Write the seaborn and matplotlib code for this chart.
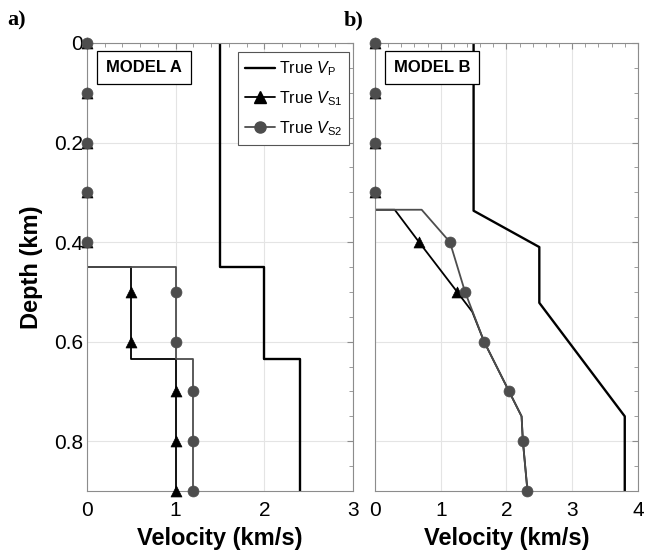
import numpy as np
import matplotlib.pyplot as plt
import seaborn as sns
from matplotlib.lines import Line2D
from matplotlib.ticker import MultipleLocator

# Model A profiles: velocity (km/s) vs depth (km)
vp_a_depth = [0, 0.45, 0.45, 0.635, 0.635, 0.9]
vp_a_vel = [1.5, 1.5, 2.0, 2.0, 2.4, 2.4]
vs_a_depth = [0, 0.45, 0.45, 0.635, 0.635, 0.9]
vs1_a_vel = [0, 0, 0.5, 0.5, 1.0, 1.0]
vs2_a_vel = [0, 0, 1.0, 1.0, 1.2, 1.2]

# Model B profiles
vp_b_depth = [0, 0.337, 0.41, 0.522, 0.75, 0.9]
vp_b_vel = [1.5, 1.5, 2.5, 2.5, 3.8, 3.8]
vs1_b_depth = [0, 0.335, 0.335, 0.4, 0.5, 0.54, 0.6, 0.7, 0.75, 0.8, 0.9]
vs1_b_vel = [0, 0, 0.30, 0.67, 1.25, 1.48, 1.66, 2.04, 2.23, 2.25, 2.32]
vs2_b_depth = [0, 0.335, 0.335, 0.4, 0.5, 0.6, 0.7, 0.75, 0.8, 0.9]
vs2_b_vel = [0, 0, 0.71, 1.14, 1.37, 1.66, 2.04, 2.23, 2.25, 2.32]

# sampled points (markers)
mark_depth = [0, 0.1, 0.2, 0.3, 0.4, 0.5, 0.6, 0.7, 0.8, 0.9]
vs1_a_mark = [0, 0, 0, 0, 0, 0.5, 0.5, 1.0, 1.0, 1.0]
vs2_a_mark = [0, 0, 0, 0, 0, 1.0, 1.0, 1.2, 1.2, 1.2]
vs1_b_mark = [0, 0, 0, 0, 0.67, 1.25]
vs2_b_mark = [0, 0, 0, 0, 1.14, 1.37, 1.66, 2.04, 2.25, 2.32]

depth_ticks = [0, 0.2, 0.4, 0.6, 0.8]
depth_labels = ['0', '0.2', '0.4', '0.6', '0.8']

sns.set_style('whitegrid', {'text.color': 'black', 'axes.labelcolor': 'black',
                            'xtick.color': 'black', 'ytick.color': 'black'})
plt.rcParams['font.family'] = ['Liberation Sans', 'DejaVu Sans']
plt.rcParams['mathtext.fontset'] = 'custom'
plt.rcParams['mathtext.rm'] = 'Liberation Sans'
plt.rcParams['mathtext.it'] = 'Liberation Sans:italic'

fig = plt.figure(figsize=(6.45, 5.51), dpi=100)
ax_a = fig.add_axes([0.1349, 0.1089, 0.4124, 0.8131])
ax_b = fig.add_axes([0.5814, 0.1089, 0.4076, 0.8131])

black = '#000000'
gray = '#4d4d4d'


def draw_model(ax, vp_v, vp_d, vs1_v, vs1_d, vs2_v, vs2_d, m1, m2):
    sns.lineplot(x=vp_v, y=vp_d, sort=False, estimator=None, color=black,
                 lw=1.7, ax=ax)
    sns.lineplot(x=vs1_v, y=vs1_d, sort=False, estimator=None, color=black,
                 lw=1.3, ax=ax)
    sns.scatterplot(x=m1, y=mark_depth[:len(m1)], marker='^', s=62,
                    color=black, edgecolor=black, linewidth=0.5, ax=ax,
                    clip_on=False, zorder=4)
    sns.lineplot(x=vs2_v, y=vs2_d, sort=False, estimator=None, color=gray,
                 lw=1.3, ax=ax)
    sns.scatterplot(x=m2, y=mark_depth[:len(m2)], marker='o', s=62,
                    color=gray, edgecolor=gray, linewidth=0.5, ax=ax,
                    clip_on=False, zorder=5)


draw_model(ax_a, vp_a_vel, vp_a_depth, vs1_a_vel, vs_a_depth,
           vs2_a_vel, vs_a_depth, vs1_a_mark, vs2_a_mark)
draw_model(ax_b, vp_b_vel, vp_b_depth, vs1_b_vel, vs1_b_depth,
           vs2_b_vel, vs2_b_depth, vs1_b_mark, vs2_b_mark)

for ax, xmax, name in [(ax_a, 3, 'MODEL A'), (ax_b, 4, 'MODEL B')]:
    ax.set_xlim(0, xmax)
    ax.set_ylim(0.9, 0)
    ax.set_xticks(range(xmax + 1))
    ax.xaxis.set_minor_locator(MultipleLocator(0.2))
    ax.yaxis.set_minor_locator(MultipleLocator(0.05))
    ax.grid(True, which='major', color='#e4e4e4', lw=0.8)
    ax.grid(False, which='minor')
    for sp in ax.spines.values():
        sp.set_color('#8c8c8c')
        sp.set_linewidth(0.8)
    ax.tick_params(which='both', direction='in', top=True, right=True,
                   color='#8c8c8c', labelcolor='black', labelsize=15)
    ax.tick_params(which='major', length=4)
    ax.tick_params(which='minor', length=3)
    ax.tick_params(axis='x', pad=7)
    ax.tick_params(axis='y', pad=3)
    ax.set_xlabel('Velocity (km/s)', fontsize=17, fontweight='bold', labelpad=5)
    ax.text(0.071, 0.962, name, transform=ax.transAxes, fontsize=12,
            fontweight='bold', va='top', ha='left',
            bbox=dict(boxstyle='square,pad=0.55', fc='white', ec='black', lw=0.9))

ax_a.set_yticks(depth_ticks, depth_labels)
ax_b.set_yticks(depth_ticks, [''] * len(depth_ticks))
ax_a.set_ylabel('Depth (km)', fontsize=17, fontweight='bold', labelpad=8)
ax_b.set_ylabel('')

handles = [
    Line2D([], [], color=black, lw=1.7, label=r'True $V_\mathrm{P}$'),
    Line2D([], [], color=black, lw=1.3, marker='^', ms=8,
           label=r'True $V_\mathrm{S1}$'),
    Line2D([], [], color=gray, lw=1.3, marker='o', ms=8,
           label=r'True $V_\mathrm{S2}$'),
]
leg = ax_a.legend(handles=handles, loc='upper right', bbox_to_anchor=(0.985, 0.98),
                  borderaxespad=0, fontsize=11.5, frameon=True, fancybox=False,
                  framealpha=1, edgecolor='#555555', labelspacing=0.7,
                  handlelength=1.9, handletextpad=0.2, borderpad=0.45)
leg.get_frame().set_linewidth(0.8)

fig.text(0.012, 0.963, 'a)', fontsize=16, fontweight='bold',
         family='Liberation Serif', va='center')
fig.text(0.533, 0.963, 'b)', fontsize=16, fontweight='bold',
         family='Liberation Serif', va='center')

fig.savefig('out.png', dpi=100)
